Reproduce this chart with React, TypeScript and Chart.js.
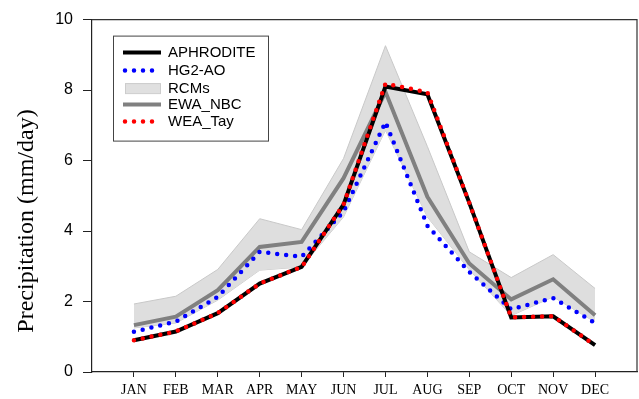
import React, { useEffect, useRef } from 'react';
import { Chart, registerables } from 'chart.js';

Chart.register(...registerables);

const months = ['JAN', 'FEB', 'MAR', 'APR', 'MAY', 'JUN', 'JUL', 'AUG', 'SEP', 'OCT', 'NOV', 'DEC'];
const aphrodite = [0.9, 1.15, 1.67, 2.51, 2.98, 4.75, 8.1, 7.88, 4.8, 1.55, 1.58, 0.76];
const hg2ao = [1.14, 1.43, 2.13, 3.41, 3.27, 4.55, 7.09, 4.15, 2.84, 1.78, 2.1, 1.39];
const ewaNbc = [1.33, 1.57, 2.32, 3.55, 3.69, 5.5, 7.95, 4.97, 3.08, 2.06, 2.63, 1.61];
const weaTay = [0.9, 1.15, 1.67, 2.51, 2.98, 4.75, 8.18, 7.94, 4.8, 1.55, 1.58, 0.76];
const rcmUpper = [1.93, 2.15, 2.91, 4.35, 4.04, 6.06, 9.26, 6.4, 3.41, 2.68, 3.33, 2.37];
const rcmLower = [1.25, 1.39, 2.04, 2.89, 2.98, 4.4, 6.86, 4.4, 2.9, 1.6, 2.13, 1.42];
const yTicks = [0, 2, 4, 6, 8, 10];
const yTitle = 'Precipitation (mm/day)';
const legendLabels = ['APHRODITE', 'HG2-AO', 'RCMs', 'EWA_NBC', 'WEA_Tay'];

const toXY = (arr: number[]) => arr.map((v, i) => ({ x: i + 1, y: v }));

export default function App() {
  const ref = useRef<HTMLCanvasElement>(null);

  useEffect(() => {
    if (!ref.current) return;

    const decor = {
      id: 'decor',
      afterDraw(chart: any) {
        const { ctx, chartArea: a } = chart;
        ctx.save();
        // top and right frame
        ctx.strokeStyle = '#333';
        ctx.lineWidth = 1.2;
        ctx.beginPath();
        ctx.moveTo(a.left, a.top);
        ctx.lineTo(a.right, a.top);
        ctx.lineTo(a.right, a.bottom);
        ctx.stroke();

        // y title
        ctx.save();
        ctx.translate(27, 221);
        ctx.rotate(-Math.PI / 2);
        ctx.font = '24px "Liberation Serif", "Times New Roman", serif';
        ctx.fillStyle = '#000';
        ctx.textAlign = 'center';
        ctx.textBaseline = 'middle';
        ctx.fillText(yTitle, 0, 0);
        ctx.restore();

        // legend
        const bx = a.left + 21;
        const by = a.top + 16;
        ctx.fillStyle = '#fff';
        ctx.fillRect(bx, by, 155, 105);
        ctx.strokeStyle = '#444';
        ctx.lineWidth = 1;
        ctx.strokeRect(bx + 0.5, by + 0.5, 155, 105);

        const sx0 = bx + 10;
        const sx1 = bx + 48;
        const rows = [by + 17, by + 35, by + 52.5, by + 69, by + 86];

        // APHRODITE
        ctx.setLineDash([]);
        ctx.lineCap = 'butt';
        ctx.strokeStyle = '#000';
        ctx.lineWidth = 4;
        ctx.beginPath(); ctx.moveTo(sx0, rows[0]); ctx.lineTo(sx1, rows[0]); ctx.stroke();
        // HG2-AO
        ctx.setLineDash([0, 9]);
        ctx.lineCap = 'round';
        ctx.strokeStyle = '#0000ff';
        ctx.lineWidth = 4.5;
        ctx.beginPath(); ctx.moveTo(sx0 + 2, rows[1]); ctx.lineTo(sx1 - 4, rows[1]); ctx.stroke();
        // RCMs
        ctx.setLineDash([]);
        ctx.lineCap = 'butt';
        ctx.fillStyle = '#e0e0e0';
        ctx.fillRect(sx0 + 2, rows[2] - 5, 35, 10);
        ctx.strokeStyle = '#cccccc';
        ctx.lineWidth = 1;
        ctx.strokeRect(sx0 + 2.5, rows[2] - 4.5, 35, 10);
        // EWA_NBC
        ctx.strokeStyle = '#808080';
        ctx.lineWidth = 4;
        ctx.beginPath(); ctx.moveTo(sx0, rows[3]); ctx.lineTo(sx1, rows[3]); ctx.stroke();
        // WEA_Tay
        ctx.setLineDash([0, 9]);
        ctx.lineCap = 'round';
        ctx.strokeStyle = '#ff0000';
        ctx.lineWidth = 4.5;
        ctx.beginPath(); ctx.moveTo(sx0 + 2, rows[4]); ctx.lineTo(sx1 - 4, rows[4]); ctx.stroke();
        ctx.setLineDash([]);

        ctx.font = '15px "Liberation Sans", Arial, sans-serif';
        ctx.fillStyle = '#000';
        ctx.textAlign = 'left';
        ctx.textBaseline = 'middle';
        legendLabels.forEach((t, i) => ctx.fillText(t, bx + 55, rows[i] + 0.5));
        ctx.restore();
      },
    };

    const chart = new Chart(ref.current, {
      type: 'line',
      data: {
        datasets: [
          {
            label: 'WEA_Tay',
            data: toXY(weaTay),
            borderColor: '#ff0000',
            borderWidth: 4.5,
            borderDash: [0, 9],
            borderCapStyle: 'round',
            pointRadius: 0,
            fill: false,
          },
          {
            label: 'APHRODITE',
            data: toXY(aphrodite),
            borderColor: '#000000',
            borderWidth: 4,
            pointRadius: 0,
            fill: false,
          },
          {
            label: 'HG2-AO',
            data: toXY(hg2ao),
            borderColor: '#0000ff',
            borderWidth: 4.5,
            borderDash: [0, 9],
            borderCapStyle: 'round',
            pointRadius: 0,
            fill: false,
          },
          {
            label: 'EWA_NBC',
            data: toXY(ewaNbc),
            borderColor: '#808080',
            borderWidth: 4,
            pointRadius: 0,
            fill: false,
          },
          {
            label: 'RCMs',
            data: toXY(rcmUpper),
            borderColor: '#c8c8c8',
            borderWidth: 1,
            backgroundColor: '#dedede',
            pointRadius: 0,
            fill: '+1',
          },
          {
            label: 'RCMs lower',
            data: toXY(rcmLower),
            borderColor: '#c8c8c8',
            borderWidth: 1,
            pointRadius: 0,
            fill: false,
          },
        ],
      },
      options: {
        animation: false,
        responsive: true,
        maintainAspectRatio: false,
        layout: { padding: { top: 19, right: 2, left: 0, bottom: 0 } },
        plugins: {
          legend: { display: false },
          tooltip: { enabled: false },
          title: { display: false },
        },
        scales: {
          x: {
            type: 'linear',
            min: 0,
            max: 13,
            afterBuildTicks: (axis: any) => {
              axis.ticks = months.map((_, i) => ({ value: i + 1 }));
            },
            afterFit: (axis: any) => {
              axis.height = 27;
            },
            ticks: {
              autoSkip: false,
              maxRotation: 0,
              padding: 5,
              color: '#000',
              font: { family: '"Liberation Serif", "Times New Roman", serif', size: 14 },
              callback: (v: any) => months[Number(v) - 1] ?? '',
            },
            grid: {
              drawOnChartArea: false,
              drawTicks: true,
              tickLength: 5,
              color: '#222',
            },
            border: { display: true, color: '#222', width: 1.2 },
          },
          y: {
            min: 0,
            max: 10,
            afterBuildTicks: (axis: any) => {
              axis.ticks = yTicks.map((v) => ({ value: v }));
            },
            afterFit: (axis: any) => {
              axis.width = 92;
            },
            ticks: {
              padding: 10,
              color: '#000',
              font: { family: '"Liberation Sans", Arial, sans-serif', size: 16 },
            },
            grid: {
              drawOnChartArea: false,
              drawTicks: true,
              tickLength: 9,
              color: '#222',
            },
            border: { display: true, color: '#222', width: 1.2 },
          },
        },
      },
      plugins: [decor],
    } as any);

    return () => chart.destroy();
  }, []);

  return (
    <div style={{ position: 'fixed', left: 0, top: 0, width: 639, height: 399, background: '#fff' }}>
      <canvas ref={ref} />
    </div>
  );
}
